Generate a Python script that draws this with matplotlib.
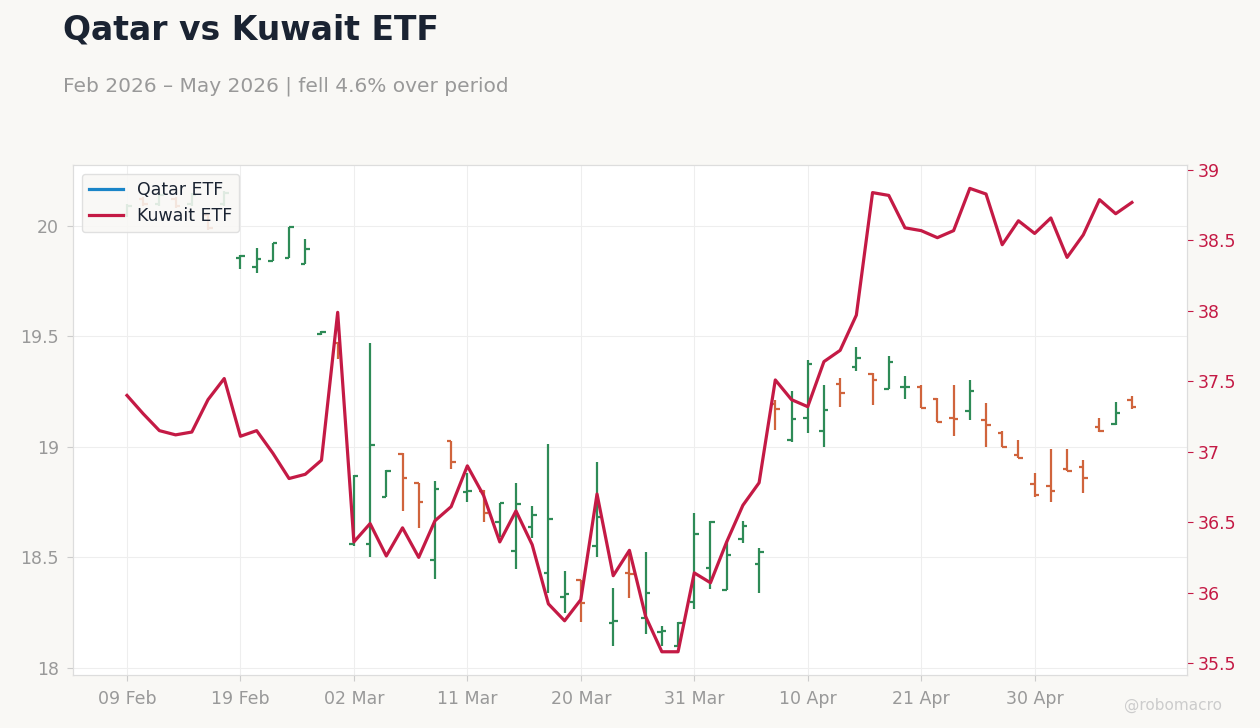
import numpy as np
import pandas as pd
import matplotlib
matplotlib.use("Agg")
import matplotlib.pyplot as plt
from matplotlib.lines import Line2D
from matplotlib.ticker import FuncFormatter, FixedLocator

# -----------------------------
# Data
# -----------------------------
dates = pd.bdate_range("2026-02-09", "2026-05-08")
dates = dates[~dates.isin(pd.to_datetime(["2026-02-16", "2026-04-03"]))]

qatar_open = [20.05, 20.12, 20.10, 20.12, 20.10, 20.05, 20.10, 19.855, 19.815, 19.842,
              19.855, 19.828, 19.51, 19.47, 18.56, 18.56, 18.775, 18.97, 18.835, 18.49,
              19.025, 18.795, 18.80, 18.66, 18.53, 18.64, 18.43, 18.32, 18.40, 18.55,
              18.205, 18.43, 18.225, 18.163, 18.10, 18.30, 18.45, 18.353, 18.584, 18.47,
              19.195, 19.03, 19.13, 19.072, 19.285, 19.362, 19.33, 19.262, 19.27, 19.27,
              19.217, 19.13, 19.163, 19.122, 19.063, 18.964, 18.833, 18.824, 18.90, 18.91,
              19.09, 19.104, 19.213]
qatar_high = [20.10, 20.13, 20.15, 20.13, 20.15, 20.06, 20.16, 19.87, 19.90, 19.923,
              19.995, 19.94, 19.525, 19.475, 18.875, 19.47, 18.896, 18.973, 18.837, 18.846,
              19.027, 18.882, 18.805, 18.747, 18.837, 18.733, 19.014, 18.439, 18.398, 18.932,
              18.362, 18.525, 18.525, 18.19, 18.208, 18.70, 18.665, 18.575, 18.665, 18.543,
              19.213, 19.253, 19.394, 19.281, 19.312, 19.452, 19.335, 19.412, 19.321, 19.281,
              19.222, 19.281, 19.303, 19.199, 19.072, 19.032, 18.882, 18.991, 18.991, 18.941,
              19.131, 19.204, 19.231]
qatar_low = [20.04, 20.09, 20.09, 20.08, 20.09, 19.98, 20.09, 19.805, 19.787, 19.842,
             19.855, 19.828, 19.507, 19.398, 18.552, 18.50, 18.774, 18.71, 18.633, 18.403,
             18.90, 18.75, 18.66, 18.593, 18.448, 18.588, 18.339, 18.249, 18.208, 18.50,
             18.10, 18.317, 18.154, 18.10, 18.10, 18.267, 18.357, 18.353, 18.566, 18.339,
             19.077, 19.023, 19.063, 19.0, 19.181, 19.344, 19.19, 19.262, 19.217, 19.176,
             19.113, 19.05, 19.122, 19.0, 19.0, 18.95, 18.774, 18.751, 18.891, 18.792,
             19.068, 19.10, 19.172]
qatar_close = [20.09, 20.10, 20.14, 20.09, 20.14, 19.99, 20.15, 19.865, 19.85, 19.923,
               19.995, 19.896, 19.52, 19.43, 18.87, 19.01, 18.89, 18.86, 18.75, 18.81,
               18.932, 18.80, 18.70, 18.745, 18.742, 18.692, 18.674, 18.335, 18.294, 18.683,
               18.213, 18.425, 18.34, 18.165, 18.204, 18.606, 18.66, 18.511, 18.643, 18.525,
               19.172, 19.127, 19.376, 19.167, 19.244, 19.403, 19.303, 19.385, 19.273, 19.176,
               19.113, 19.127, 19.253, 19.10, 19.0, 18.95, 18.783, 18.80, 18.891, 18.86,
               19.072, 19.154, 19.181]

kuwait = [37.40, 37.27, 37.15, 37.12, 37.14, 37.37, 37.52, 37.11, 37.15, 36.99,
          36.81, 36.84, 36.94, 37.99, 36.36, 36.49, 36.26, 36.46, 36.25, 36.51,
          36.61, 36.90, 36.69, 36.36, 36.58, 36.34, 35.92, 35.80, 35.95, 36.70,
          36.12, 36.30, 35.83, 35.58, 35.58, 36.14, 36.07, 36.36, 36.62, 36.78,
          37.51, 37.37, 37.32, 37.64, 37.72, 37.97, 38.84, 38.82, 38.59, 38.57,
          38.52, 38.57, 38.87, 38.83, 38.47, 38.64, 38.55, 38.66, 38.38, 38.54,
          38.79, 38.69, 38.77]

# -----------------------------
# Style
# -----------------------------
BG = "#f9f8f5"
UP = "#2e8b57"
DOWN = "#d0643c"
KUWAIT = "#c41a45"
QATAR = "#1a85c8"
GREY = "#999999"

fig = plt.figure(figsize=(12.6, 7.28), dpi=100, facecolor=BG)
ax = fig.add_axes([73 / 1260, 1 - 675 / 728, (1187 - 73) / 1260, (675 - 165) / 728])
ax.set_facecolor("white")

x = np.arange(len(dates))
o = np.array(qatar_open)
h = np.array(qatar_high)
l = np.array(qatar_low)
c = np.array(qatar_close)
cols = np.where(c >= o, UP, DOWN)

# OHLC bars
tick_w = 0.28
ax.vlines(x, l, h, colors=cols, linewidth=1.6, zorder=2)
ax.hlines(o, x - tick_w, x, colors=cols, linewidth=1.6, zorder=2)
ax.hlines(c, x, x + tick_w, colors=cols, linewidth=1.6, zorder=2)

ax.set_xlim(-3.33, 65.4)
ax.set_ylim(17.968, 20.276)
ax.yaxis.set_major_locator(FixedLocator([18, 18.5, 19, 19.5, 20]))
ax.yaxis.set_major_formatter(FuncFormatter(lambda v, _: f"{v:g}"))
ax.grid(True, color="#eeeeee", linewidth=0.8, zorder=0)
ax.set_axisbelow(True)

xt = x[::7]
ax.set_xticks(xt)
ax.set_xticklabels([dates[i].strftime("%d %b") for i in xt])
ax.tick_params(axis="both", colors="#cccccc", labelcolor=GREY, labelsize=12.5, length=4)
ax.tick_params(axis="x", pad=7)
ax.tick_params(axis="y", pad=6)

for s in ax.spines.values():
    s.set_color("#dddddd")

# Kuwait line on right axis
ax2 = ax.twinx()
ax2.plot(x, kuwait, color=KUWAIT, linewidth=2.3, zorder=3)
ax2.set_ylim(35.415, 39.036)
ax2.yaxis.set_major_locator(FixedLocator([35.5, 36, 36.5, 37, 37.5, 38, 38.5, 39]))
ax2.yaxis.set_major_formatter(FuncFormatter(lambda v, _: f"{v:g}"))
ax2.tick_params(axis="y", colors=KUWAIT, labelcolor=KUWAIT, labelsize=12.5, length=4)
for s in ax2.spines.values():
    s.set_color("#dddddd")

handles = [Line2D([0], [0], color=QATAR, linewidth=2.3),
           Line2D([0], [0], color=KUWAIT, linewidth=2.3)]
leg = ax2.legend(handles, ["Qatar ETF", "Kuwait ETF"], loc="upper left",
                 fontsize=12.5, frameon=True, facecolor=BG, edgecolor="#dddddd",
                 framealpha=0.88, borderpad=0.4, handletextpad=0.8,
                 labelcolor="#1a2332", bbox_to_anchor=(0.0, 1.0))
leg.set_zorder(10)

# Titles
fig.text(63 / 1260, 1 - 30 / 728, "Qatar vs Kuwait ETF", fontsize=23.8, fontweight="bold",
         color="#1a2332", va="center", ha="left")
fig.text(63 / 1260, 1 - 86 / 728, "Feb 2026 \u2013 May 2026 | fell 4.6% over period",
         fontsize=14.5, color=GREY, va="center", ha="left")
fig.text(1222 / 1260, 1 - 705 / 728, "@robomacro", fontsize=11, color="#cccccc",
         va="center", ha="right")

fig.savefig("out.png", dpi=100, facecolor=BG)
